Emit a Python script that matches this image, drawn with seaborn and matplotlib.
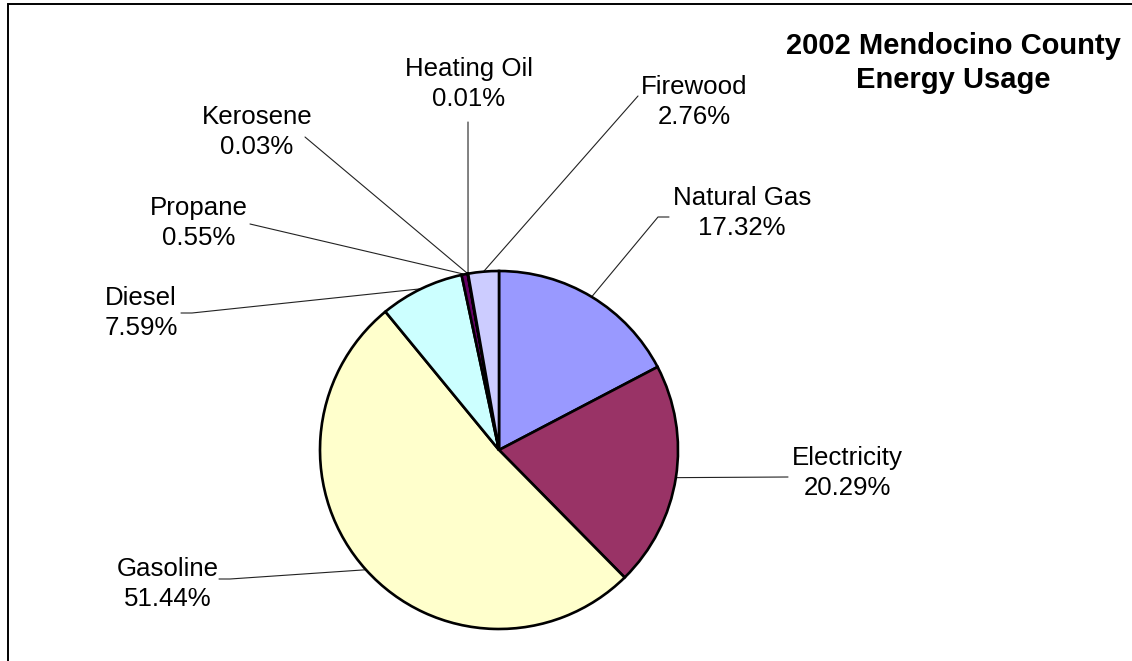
import numpy as np
import matplotlib
matplotlib.use('Agg')
import matplotlib.pyplot as plt
import seaborn as sns
from matplotlib.patches import Rectangle

# data (clockwise from 12 o'clock)
sources = ['Natural Gas', 'Electricity', 'Gasoline', 'Diesel', 'Propane',
           'Kerosene', 'Heating Oil', 'Firewood']
shares = [17.32, 20.29, 51.44, 7.59, 0.55, 0.03, 0.01, 2.76]
colors = ['#9999FF', '#993366', '#FFFFCC', '#CCFFFF', '#660066',
          '#FF8080', '#0066CC', '#CCCCFF']

# label layout in pixels from the top-left corner
label_xy = [(742, 213), (847, 473), (168, 584), (141, 313), (199, 223),
            (257, 132), (469, 84), (694, 102)]
leader_end = [(658, 217), (788, 477), (230, 579), (192, 313), (250, 224),
              (305, 137), (468, 122), (638, 96)]
stub = [11, 0, -11, -11, 0, 0, 0, 0]

sns.set_theme(style='white')
plt.rcParams['font.family'] = ['Liberation Sans', 'DejaVu Sans']

W, H = 1132, 661
fig = plt.figure(figsize=(W / 100, H / 100), dpi=100)
ax = fig.add_axes([0, 0, 1, 1])

cx, cy, r = 499, H - 450, 179
wedges, _ = ax.pie(shares, colors=colors, startangle=90, counterclock=False,
                   center=(cx, cy), radius=r, frame=True,
                   wedgeprops=dict(edgecolor='black', linewidth=1.9))
ax.set_xlim(0, W)
ax.set_ylim(0, H)
ax.set_aspect('equal')
ax.axis('off')

for w, name, val, (lx, ly), (ex, ey), s in zip(wedges, sources, shares,
                                                label_xy, leader_end, stub):
    mid = np.deg2rad((w.theta1 + w.theta2) / 2)
    sx, sy = cx + r * np.cos(mid), cy + r * np.sin(mid)
    xs = [sx, ex]
    ys = [sy, H - ey]
    if s:
        xs.append(ex + s)
        ys.append(H - ey)
    ax.plot(xs, ys, color='#222222', linewidth=0.8, zorder=0)
    ax.text(lx, H - ly, f'{name}\n{val:.2f}%', ha='center', va='center',
            multialignment='center', fontsize=18.6, linespacing=1.3,
            color='black')

ax.text(953, H - 63, '2002 Mendocino County\nEnergy Usage', ha='center',
        va='center', multialignment='center', fontsize=21, fontweight='bold',
        linespacing=1.25, color='black')

# chart frame (right and bottom edges fall outside the image)
fig.patches.append(Rectangle((8 / W, -0.1), 1.2, (H - 4) / H + 0.1,
                             transform=fig.transFigure, fill=False,
                             edgecolor='black', linewidth=1.4))

fig.savefig('out.png', dpi=100, facecolor='white')
